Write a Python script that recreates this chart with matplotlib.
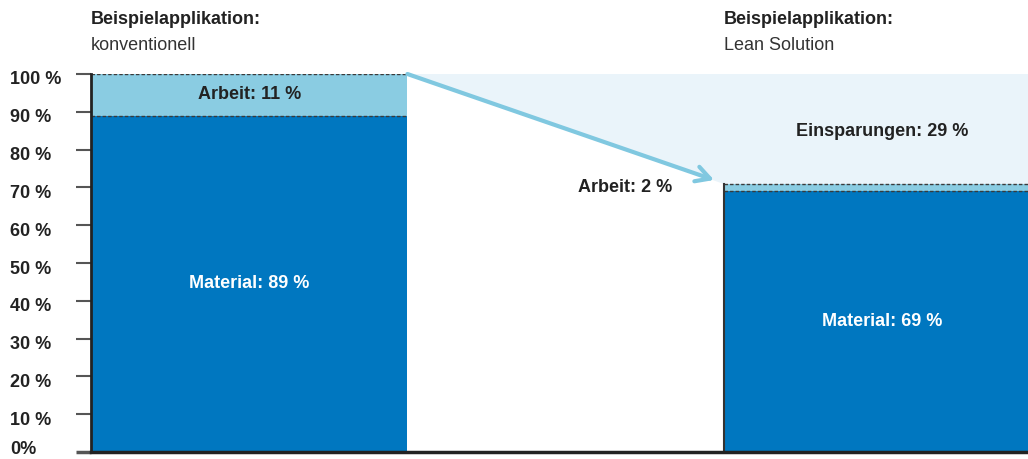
import matplotlib
matplotlib.use("Agg")
import matplotlib.pyplot as plt
from matplotlib.transforms import ScaledTranslation
from matplotlib.patches import Polygon

plt.rcParams['font.family'] = ['Liberation Sans', 'DejaVu Sans']

# ---- data ----
categories = ["konventionell", "Lean Solution"]
material = [89, 69]
arbeit = [11, 2]
einsparung = 29
yticks = [0, 10, 20, 30, 40, 50, 60, 70, 80, 90, 100]
ytick_labels = ["0%", "10 %", "20 %", "30 %", "40 %", "50 %", "60 %", "70 %", "80 %", "90 %", "100 %"]
title_main = "Beispielapplikation:"

# ---- style ----
c_mat = "#0077C0"
c_arb = "#8ACCE2"
c_save = "#EAF4FA"
c_arrow = "#80C8E0"
c_dash = "#3a3a3a"
c_text = "#222222"

W, H = 1028, 459
fig = plt.figure(figsize=(W / 100, H / 100), dpi=100)
ax_left = 91 / W
ax_bottom = (H - 452) / H
ax_h = (452 - 74) / H
ax = fig.add_axes([ax_left, ax_bottom, 1 - ax_left, ax_h])

xs = [0, 1]
width = 0.5
xmax = (W - 249) / 633
ax.set_xlim(-0.25, xmax)
ax.set_ylim(0, 100)

# savings area
top = [m + a for m, a in zip(material, arbeit)]
poly = Polygon([(xs[0] + width / 2, 100), (xmax, 100), (xmax, top[1]), (xs[1] - width / 2, top[1])],
               closed=True, facecolor=c_save, edgecolor="none", zorder=0)
ax.add_patch(poly)

ax.bar(xs, material, width=width, color=c_mat, zorder=2)
ax.bar(xs, arbeit, width=width, bottom=material, color=c_arb, zorder=2)

# dashed boundaries
for x, m, t in zip(xs, material, top):
    for yv in (m, t):
        ax.plot([x - width / 2, x + width / 2], [yv, yv], color=c_dash, lw=1.0,
                ls=(0, (2.5, 1.5)), zorder=3, clip_on=True)
# left edge of second bar
ax.plot([xs[1] - width / 2] * 2, [0, top[1]], color="#333333", lw=1.5, zorder=3)

# arrow
tip_x = (714 - 249) / 633
tip_y = (452 - 180) / 3.78
ax.annotate("", xy=(tip_x, tip_y), xytext=(xs[0] + width / 2, 100),
            arrowprops=dict(arrowstyle="->,head_length=1.0,head_width=0.55", color=c_arrow, lw=3.0,
                            shrinkA=0, shrinkB=0), zorder=4)

fs = 13
# labels in bars
ax.text(xs[0], material[0] + arbeit[0] / 2, f"Arbeit: {arbeit[0]} %", ha="center", va="center",
        fontsize=fs, fontweight="bold", color=c_text, zorder=5)
ax.text(xs[0], material[0] / 2, f"Material: {material[0]} %", ha="center", va="center",
        fontsize=fs, fontweight="bold", color="white", zorder=5)
ax.text(xs[1], material[1] / 2, f"Material: {material[1]} %", ha="center", va="center",
        fontsize=fs, fontweight="bold", color="white", zorder=5)
ax.text((672 - 249) / 633, 70, f"Arbeit: {arbeit[1]} %", ha="right", va="center",
        fontsize=fs, fontweight="bold", color=c_text, zorder=5)
ax.text(xs[1], top[1] + einsparung / 2 - 0.7, f"Einsparungen: {einsparung} %", ha="center", va="center",
        fontsize=fs, fontweight="bold", color=c_text, zorder=5)

# axes styling
for s in ("top", "right"):
    ax.spines[s].set_visible(False)
ax.spines["left"].set_color("#222222")
ax.spines["left"].set_linewidth(2)
ax.spines["left"].set_zorder(6)
ax.spines["bottom"].set_color("#222222")
ax.spines["bottom"].set_linewidth(2.5)
ax.spines["bottom"].set_zorder(6)
ax.set_xticks([])
ax.set_yticks(yticks)
ax.set_yticklabels(ytick_labels, fontsize=fs, fontweight="bold", color=c_text, ha="left")
ax.tick_params(axis="y", length=11, width=1.5, color="#555555", pad=47)
ax.get_yticklines()[0].set_markeredgewidth(2.5)
ax.get_yticklines()[0].set_color("#222222")
labels = ax.get_yticklabels()
for i, lab in enumerate(labels):
    dy = 4 / 100 if i == 0 else -4 / 100
    lab.set_transform(lab.get_transform() + ScaledTranslation(0, dy, fig.dpi_scale_trans))

# titles
for x_px, cat in zip([91, 724], categories):
    fig.text(x_px / W, 1 - 20 / H, title_main, ha="left", va="center", fontsize=fs,
             fontweight="bold", color=c_text)
    fig.text(x_px / W, 1 - 45 / H, cat, ha="left", va="center", fontsize=fs, color="#333333")

fig.savefig("out.png", dpi=100)
